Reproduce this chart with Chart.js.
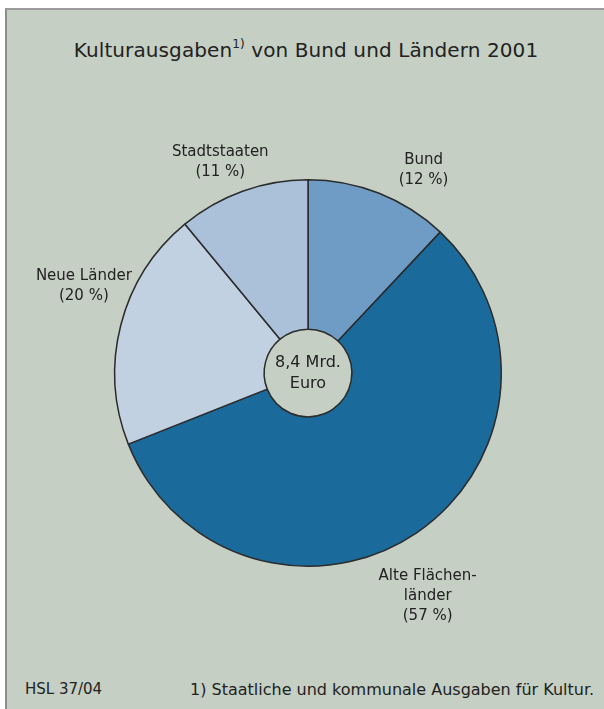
<!DOCTYPE html>
<html>
<head>
<meta charset="utf-8">
<script src="https://cdn.jsdelivr.net/npm/chart.js@4.4.1/dist/chart.umd.min.js"></script>
<style>
  html, body { margin: 0; padding: 0; background: #ffffff; }
  body { width: 604px; height: 709px; position: relative; overflow: hidden;
         font-family: "DejaVu Sans", sans-serif; color: #222; }
  #panel { position: absolute; left: 5px; top: 8px; width: 599px; height: 701px;
           background: #c5cfc3; border-left: 2px solid #8c8c8c; border-top: 2px solid #9a9a9a;
           box-sizing: border-box; }
  #title { position: absolute; left: 0; width: 612px; top: 38px; text-align: center;
           font-size: 20px; color: #222; letter-spacing: 0.1px; }
  #title sup { font-size: 12px; position: relative; top: -1px; }
  #fnl { position: absolute; left: 25px; top: 680px; font-size: 15px; }
  #fnr { position: absolute; left: 190px; top: 680px; font-size: 16px; }
  canvas { position: absolute; left: 0; top: 0; }
</style>
</head>
<body>
<div id="panel"></div>
<div id="title">Kulturausgaben<sup>1)</sup> von Bund und Ländern 2001</div>
<div id="fnl">HSL 37/04</div>
<div id="fnr">1) Staatliche und kommunale Ausgaben für Kultur.</div>
<canvas id="c" width="604" height="709"></canvas>
<script>
// ---- data ----
const categories = ["Bund", "Alte Flächenländer", "Neue Länder", "Stadtstaaten"];
const shares = [12, 57, 20, 11];
const labelLines = [
  ["Bund", "(12 %)"],
  ["Alte Flächen-", "länder", "(57 %)"],
  ["Neue Länder", "(20 %)"],
  ["Stadtstaaten", "(11 %)"]
];
const centerLines = ["8,4 Mrd.", "Euro"];

// ---- styling / placement (not data) ----
const sliceColors = ["#6f9cc4", "#1b6a9c", "#c2d1e1", "#aac1d9"];
// label anchor: angle (deg, clockwise from top) and distance beyond outer radius (px)
const labelPlacement = [
  { angle: 29.7, extra: 40 },
  { angle: 151.8, extra: 60 },
  { angle: 291.1, extra: 47 },
  { angle: 337.4, extra: 35 }
];
const FONT = '"DejaVu Sans", sans-serif';

const labelPlugin = {
  id: 'pieLabels',
  afterDatasetsDraw(chart) {
    const ctx = chart.ctx;
    const meta = chart.getDatasetMeta(0);
    ctx.save();
    ctx.fillStyle = '#222';
    ctx.textAlign = 'center';
    ctx.textBaseline = 'middle';
    ctx.font = '15px ' + FONT;
    const lh = 20;
    meta.data.forEach((arc, i) => {
      const p = labelPlacement[i];
      const a = p.angle * Math.PI / 180;
      const d = arc.outerRadius + p.extra;
      const cx = arc.x + Math.sin(a) * d;
      const cy = arc.y - Math.cos(a) * d;
      const lines = labelLines[i];
      const y0 = cy - (lines.length - 1) * lh / 2;
      lines.forEach((t, k) => ctx.fillText(t, cx, y0 + k * lh));
    });
    // centre text
    const arc0 = meta.data[0];
    ctx.font = '16px ' + FONT;
    ctx.fillText(centerLines[0], arc0.x, arc0.y - 10);
    ctx.fillText(centerLines[1], arc0.x, arc0.y + 11);
    ctx.restore();
  }
};

new Chart(document.getElementById('c'), {
  type: 'doughnut',
  data: {
    labels: categories,
    datasets: [{
      data: shares,
      backgroundColor: sliceColors,
      borderColor: '#2b2b2b',
      borderWidth: 1.5,
      hoverOffset: 0
    }]
  },
  options: {
    responsive: false,
    devicePixelRatio: 1,
    animation: false,
    cutout: '22.7%',
    rotation: 0,
    layout: { padding: { left: 114, right: 102, top: 179, bottom: 142 } },
    plugins: { legend: { display: false }, tooltip: { enabled: false }, title: { display: false } },
    events: []
  },
  plugins: [labelPlugin]
});
</script>
</body>
</html>
